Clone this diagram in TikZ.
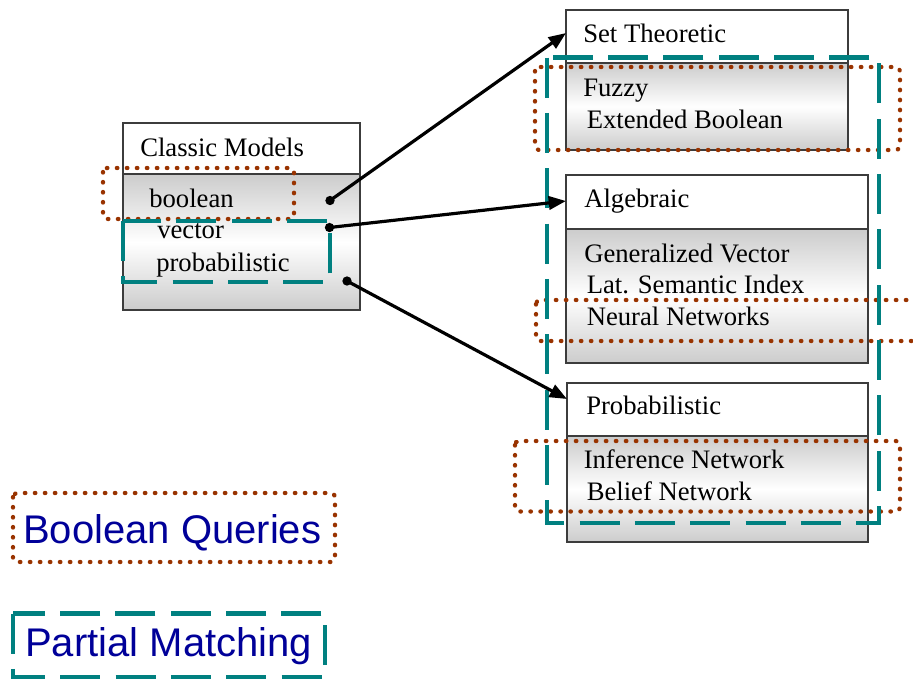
\documentclass[tikz,border=0pt]{standalone}
\usepackage{fontspec}
\setmainfont{Liberation Serif}
\newfontfamily\legfont{Liberation Sans}
\usetikzlibrary{arrows.meta}
\definecolor{teal1}{RGB}{0,128,128}
\definecolor{rust}{RGB}{153,51,0}
\definecolor{navy1}{RGB}{0,0,153}
\definecolor{boxline}{RGB}{60,60,60}
\tikzset{
  boxout/.style={draw=boxline, line width=0.8pt},
  grad/.style={top color=gray!40, bottom color=gray!40, middle color=white},
  lbl/.style={anchor=base west, inner sep=0pt, font=\fontsize{20}{24}\selectfont},
  legtxt/.style={anchor=base west, inner sep=0pt, text=navy1, font=\legfont\fontsize{30}{36}\selectfont},
  bq/.style={draw=rust, line width=3.2pt, line cap=round, dash pattern=on 0.4pt off 7.1pt, rounded corners=3pt},
  pm/.style={draw=teal1, line width=3.2pt, dash pattern=on 30pt off 11.5pt},
  dot/.style={circle, fill=black, inner sep=0pt, minimum size=7pt},
  arr/.style={-{Triangle[length=13pt,width=10pt]}, line width=2.4pt, black}
}
\begin{document}
\begin{tikzpicture}[x=0.75pt, y=-0.75pt]
\clip (0,0) rectangle (913,679);
\fill[white] (0,0) rectangle (913,679);

% Classic Models box
\fill[white] (123,123) rectangle (360,174);
\shade[grad] (123,174) rectangle (360,310);
\draw[boxout] (123,123) rectangle (360,310);
\draw[boxout] (123,174) -- (360,174);
\node[lbl] (cm) at (140,156) {Classic Models};
\node[lbl] (cmb) at (149,207.5) {boolean};
\node[lbl] (cmv) at (157,238) {vector};
\node[lbl] (cmp) at (156,271) {probabilistic};

% Set Theoretic box
\fill[white] (566,10) rectangle (848,63);
\shade[grad] (566,63) rectangle (848,150);
\draw[boxout] (566,10) rectangle (848,150);
\draw[boxout] (566,63) -- (848,63);
\node[lbl] (st) at (583,42.5) {Set Theoretic};
\node[lbl] (fz) at (583,96) {Fuzzy};
\node[lbl] (eb) at (586.5,128.5) {Extended Boolean};

% Algebraic box
\fill[white] (566,175) rectangle (868,229);
\shade[grad] (566,229) rectangle (868,363);
\draw[boxout] (566,175) rectangle (868,363);
\draw[boxout] (566,229) -- (868,229);
\node[lbl] (al) at (584,207) {Algebraic};
\node[lbl] (gv) at (584,262) {Generalized Vector};
\node[lbl] (ls) at (586.5,293.5) {Lat. Semantic Index};
\node[lbl] (nn) at (586.5,325) {Neural Networks};

% Probabilistic box
\fill[white] (567,383) rectangle (868,436);
\shade[grad] (567,436) rectangle (868,542);
\draw[boxout] (567,383) rectangle (868,542);
\draw[boxout] (567,436) -- (868,436);
\node[lbl] (pr) at (586,414.5) {Probabilistic};
\node[lbl] (in) at (583.5,468.5) {Inference Network};
\node[lbl] (bn) at (586.5,500) {Belief Network};

% Boolean query (dotted) regions
\draw[bq] (103,168) rectangle (294,219);
\draw[bq] (535,67) rectangle (900,150);
\draw[bq] (536,300) rectangle (925,341);
\draw[bq] (515,441) rectangle (900,511.5);

% Partial matching (dashed) regions
\draw[pm] (123,221) rectangle (330,282);
\draw[pm] (547,57.5) rectangle (879,523);

% Legend
\draw[bq] (13,493) rectangle (335,562);
\node[legtxt] (lbq) at (23,543) {Boolean Queries};
\draw[pm] (13,613.5) rectangle (325,677);
\node[legtxt] (lpm) at (25,656.5) {Partial Matching};

% Connectors
\node[dot] (d1) at (330,200.5) {};
\node[dot] (d2) at (329.5,227.5) {};
\node[dot] (d3) at (347,281) {};
\coordinate (t1) at (566,33);
\coordinate (t2) at (566,201);
\coordinate (t3) at (567,399);
\draw[arr] (d1.center) -- (t1);
\draw[arr] (d2.center) -- (t2);
\draw[arr] (d3.center) -- (t3);
\end{tikzpicture}
\end{document}
